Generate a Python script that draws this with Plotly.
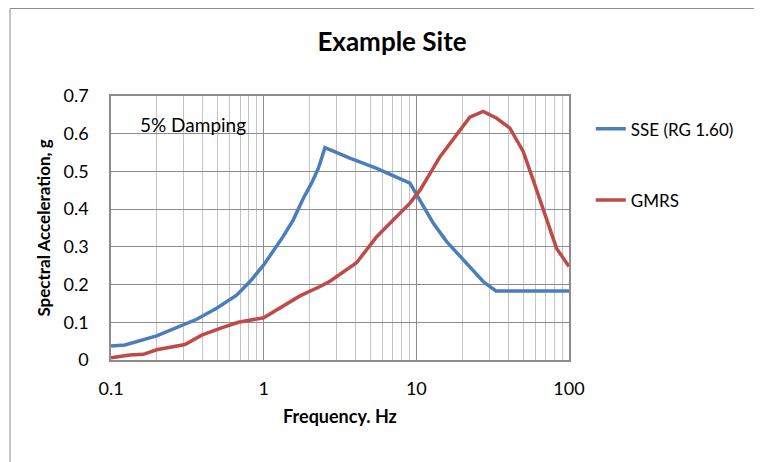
import plotly.graph_objects as go

sse_freq = [0.1, 0.1235, 0.199, 0.364, 0.492, 0.665, 0.813, 1.0, 1.34, 1.56, 1.82, 2.06, 2.28, 2.52,
            3.67, 5.5, 9.08, 10.6, 12.9, 15.8, 22.4, 27.4, 33.2, 100]
sse_vals = [0.037, 0.040, 0.064, 0.108, 0.137, 0.172, 0.208, 0.252, 0.327, 0.371, 0.429, 0.469, 0.508, 0.563,
            0.535, 0.508, 0.469, 0.424, 0.363, 0.314, 0.248, 0.208, 0.183, 0.183]

gmrs_freq = [0.1, 0.133, 0.163, 0.199, 0.305, 0.393, 0.518, 0.682, 1.0, 1.73, 2.34, 2.72, 4.06, 5.5,
             9.08, 10.6, 14.3, 18.4, 22.4, 27.4, 33.6, 41.0, 50.1, 58.3, 67.8, 82.9, 100]
gmrs_vals = [0.006, 0.013, 0.015, 0.027, 0.041, 0.066, 0.084, 0.100, 0.112, 0.170, 0.195, 0.209, 0.258, 0.327,
             0.416, 0.451, 0.539, 0.597, 0.644, 0.659, 0.641, 0.615, 0.553, 0.477, 0.398, 0.296, 0.248]

x_ticks = [0.1, 1, 10, 100]
x_tick_labels = ["0.1", "1", "10", "100"]
y_ticks = [0, 0.1, 0.2, 0.3, 0.4, 0.5, 0.6, 0.7]
y_tick_labels = ["0", "0.1", "0.2", "0.3", "0.4", "0.5", "0.6", "0.7"]

FONT = "Lato, Carlito, Calibri, sans-serif"

fig = go.Figure()
fig.add_trace(go.Scatter(x=sse_freq, y=sse_vals, mode="lines", name="SSE (RG 1.60)", legendgroup="a",
                         line=dict(color="#4a7ebb", width=3.5)))
fig.add_trace(go.Scatter(x=gmrs_freq, y=gmrs_vals, mode="lines", name="GMRS", legendgroup="b",
                         line=dict(color="#be4b48", width=3.5)))

fig.update_layout(
    width=762, height=462,
    margin=dict(l=103, r=201, t=88, b=110, autoexpand=False),
    paper_bgcolor="white", plot_bgcolor="white",
    font=dict(family=FONT, size=17, color="black"),
    title=dict(text="<b>Example Site</b>", x=(384 - 103) / 458, xref="paper", xanchor="center",
               y=1 - 34 / 462, yref="container", yanchor="middle", font=dict(size=26, family=FONT)),
    legend=dict(x=(583 - 111) / 458 + 0.017, y=0.942, xanchor="left", yanchor="top", tracegroupgap=46,
                font=dict(size=17, family=FONT), bgcolor="rgba(0,0,0,0)"),
    showlegend=True,
)

fig.update_xaxes(
    type="log", range=[-1, 2], tickvals=x_ticks, ticktext=x_tick_labels,
    showgrid=True, gridcolor="#8c8c8c", gridwidth=1,
    minor=dict(dtick="D1", showgrid=True, gridcolor="#c4c4c4", gridwidth=1, ticks=""),
    showline=True, linecolor="#8c8c8c", linewidth=1.5, mirror=True,
    ticks="", ticklabelstandoff=12, tickfont=dict(size=18, family=FONT),
    title=dict(text="<b>Frequency. Hz</b>", font=dict(size=18, family=FONT), standoff=12),
    zeroline=False, automargin=False,
)
fig.update_yaxes(
    range=[0, 0.7], tickvals=y_ticks, ticktext=y_tick_labels,
    showgrid=True, gridcolor="#8c8c8c", gridwidth=1,
    showline=True, linecolor="#8c8c8c", linewidth=1.5, mirror=True,
    ticks="", ticklabelstandoff=17, tickfont=dict(size=18, family=FONT),
    title=dict(text="<b>Spectral Acceleration, g</b>", font=dict(size=17, family=FONT), standoff=9),
    zeroline=False, automargin=False,
)

fig.add_annotation(text="5% Damping", xref="paper", yref="paper",
                   x=(138 - 111) / 458, y=(360 - 124) / 264, xanchor="left", yanchor="middle",
                   showarrow=False, font=dict(size=19, family=FONT))

fig.add_shape(type="rect", xref="paper", yref="paper",
              x0=(2 - 103) / 458, x1=2.0, y0=-1.0, y1=(352 - 0.5) / 264,
              line=dict(color="#8c8c8c", width=1), fillcolor="rgba(0,0,0,0)", layer="below")

fig.write_html("out.html")
